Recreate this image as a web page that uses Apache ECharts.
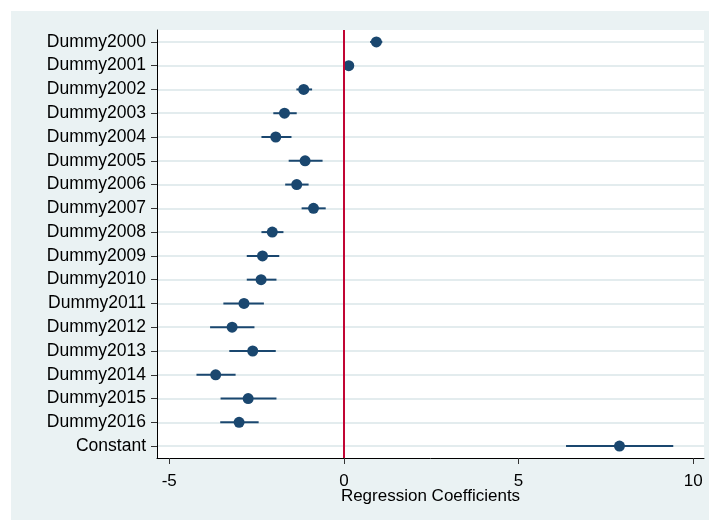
<!DOCTYPE html>
<html>
<head>
<meta charset="utf-8">
<script src="https://cdn.jsdelivr.net/npm/echarts@6/dist/echarts.min.js"></script>
<style>
  html, body { margin: 0; padding: 0; background: #fff; }
  #chart { width: 709px; height: 520px; }
</style>
</head>
<body>
<div id="chart"></div>
<script>
// coefficient names, top to bottom
var terms = ['Dummy2000', 'Dummy2001', 'Dummy2002', 'Dummy2003', 'Dummy2004', 'Dummy2005',
  'Dummy2006', 'Dummy2007', 'Dummy2008', 'Dummy2009', 'Dummy2010', 'Dummy2011',
  'Dummy2012', 'Dummy2013', 'Dummy2014', 'Dummy2015', 'Dummy2016', 'Constant'];
// point estimates
var coef = [0.93, 0.14, -1.15, -1.70, -1.95, -1.11, -1.35, -0.87, -2.05, -2.33, -2.37,
  -2.86, -3.20, -2.61, -3.67, -2.74, -3.00, 7.89];
// confidence interval bounds
var ciLow = [0.75, 0.08, -1.36, -2.02, -2.36, -1.58, -1.68, -1.21, -2.36, -2.78, -2.78,
  -3.45, -3.83, -3.28, -4.22, -3.53, -3.54, 6.36];
var ciHigh = [1.10, 0.20, -0.91, -1.35, -1.50, -0.61, -1.01, -0.52, -1.73, -1.85, -1.93,
  -2.29, -2.56, -1.95, -3.10, -1.93, -2.44, 9.43];
var xTicks = [-5, 0, 5, 10];

var navy = '#1a476f';
var font = 'Liberation Sans, Arial, sans-serif';

let myChart = echarts.init(document.getElementById('chart'));

myChart.setOption({
  animation: false,
  backgroundColor: '#fff',
  // light outer panel like stata's s2color scheme
  graphic: [{
    type: 'rect', z: -10, silent: true,
    shape: { x: 11, y: 11, width: 698, height: 509 },
    style: { fill: '#eaf2f3' }
  }],
  grid: {
    left: 157, right: 5, top: 30, bottom: 62,
    show: true, backgroundColor: '#fff', borderWidth: 0
  },
  xAxis: {
    type: 'value',
    min: -5.35, max: 10.31,
    name: 'Regression Coefficients',
    nameLocation: 'middle',
    nameGap: 30,
    nameMoveOverlap: false,
    nameTextStyle: { color: '#000', fontSize: 17, fontFamily: font },
    axisLine: { show: true, onZero: false, lineStyle: { color: '#000', width: 1 } },
    axisTick: { show: true, length: 6, lineStyle: { color: '#333' }, customValues: xTicks },
    axisLabel: { color: '#000', fontSize: 17, fontFamily: font, margin: 15, customValues: xTicks },
    splitLine: { show: false }
  },
  yAxis: {
    type: 'category',
    data: terms,
    inverse: true,
    axisLine: { show: true, onZero: false, lineStyle: { color: '#000', width: 1 } },
    axisTick: { show: true, alignWithLabel: true, length: 6, lineStyle: { color: '#333' } },
    axisLabel: { color: '#000', fontSize: 17.5, fontFamily: font, margin: 11, interval: 0 },
    splitLine: { show: true, alignWithLabel: true, lineStyle: { color: '#e3ecee', width: 2 } }
  },
  series: [
    {
      // confidence interval bars
      type: 'custom',
      data: terms.map(function (t, i) { return [ciLow[i], ciHigh[i], i]; }),
      encode: { x: [0, 1], y: 2 },
      renderItem: function (params, api) {
        var a = api.coord([api.value(0), api.value(2)]);
        var b = api.coord([api.value(1), api.value(2)]);
        return {
          type: 'line',
          shape: { x1: a[0], y1: a[1], x2: b[0], y2: b[1] },
          style: { stroke: navy, lineWidth: 2 }
        };
      },
      z: 3
    },
    {
      type: 'scatter',
      data: coef.map(function (c, i) { return [c, i]; }),
      symbol: 'circle',
      symbolSize: 11,
      itemStyle: { color: navy, opacity: 1 },
      z: 4,
      markLine: {
        silent: true,
        symbol: 'none',
        label: { show: false },
        lineStyle: { color: '#c10534', width: 2, type: 'solid' },
        data: [{ xAxis: 0 }]
      }
    }
  ]
});
</script>
</body>
</html>
